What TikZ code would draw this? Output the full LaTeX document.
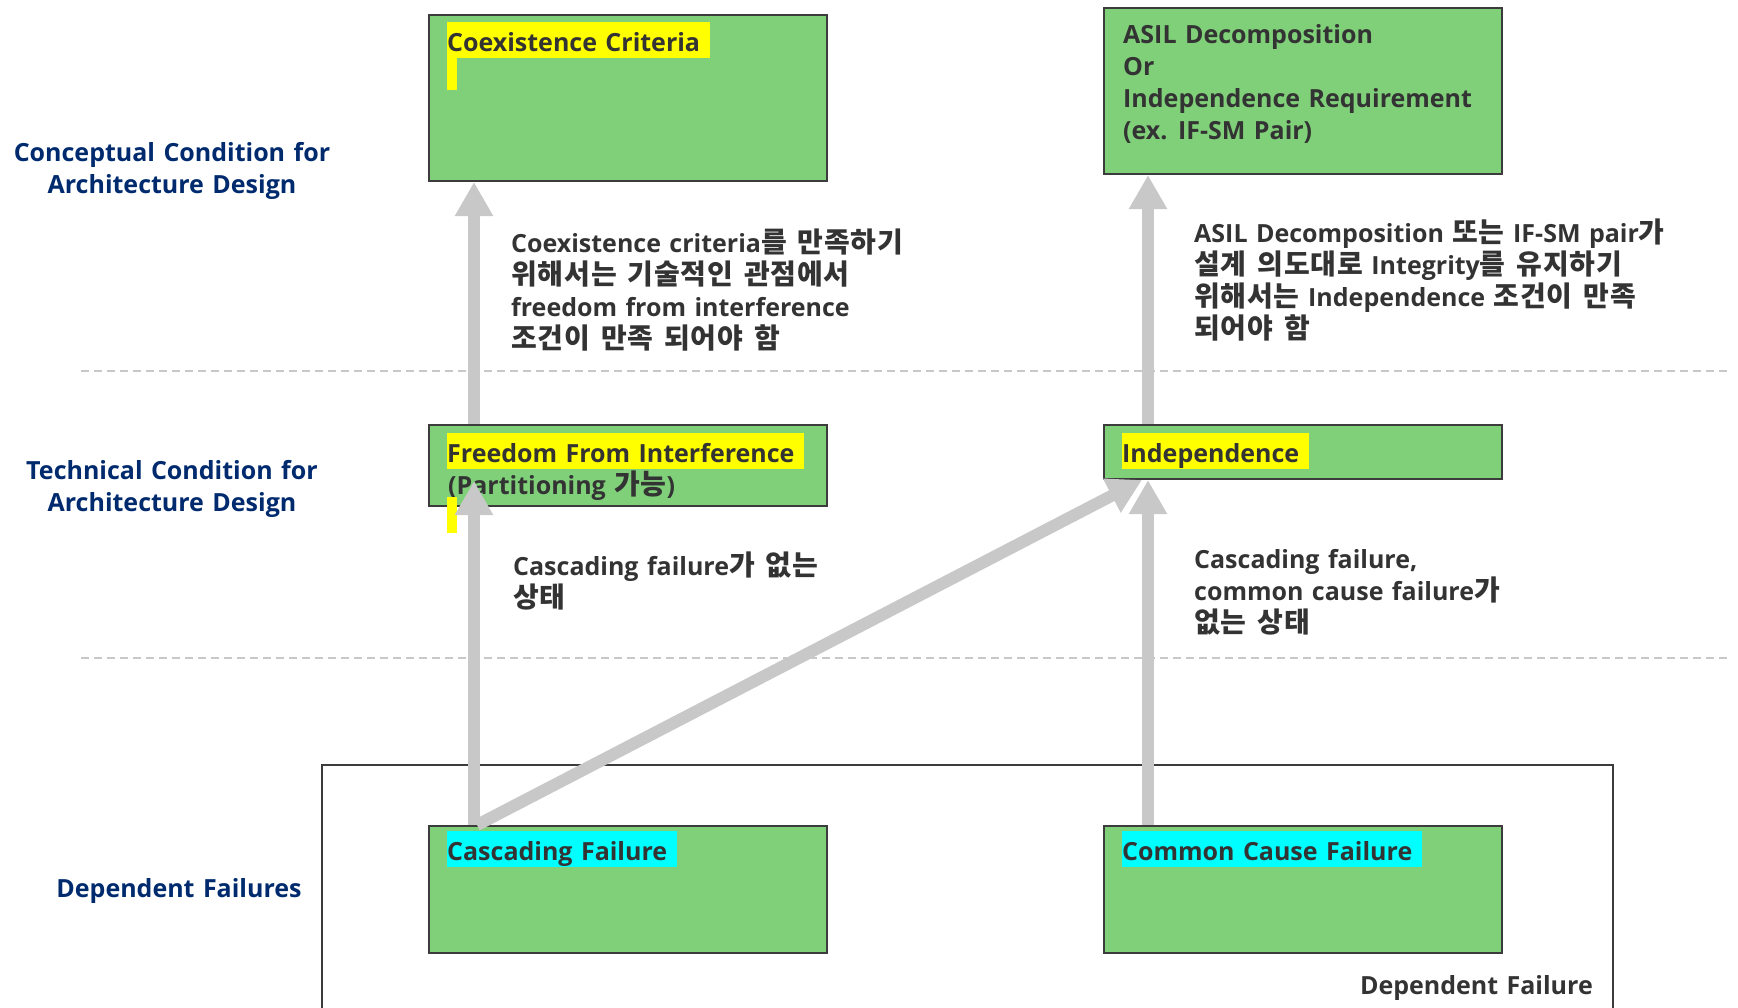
\documentclass[tikz,border=0pt]{standalone}
\usepackage{fontspec}
\setmainfont{Open Sans}[WordSpace=1.3]
\newfontfamily\kofont{Noto Sans CJK KR Bold}[Scale=1.12,LetterSpace=3,WordSpace=1.5]
\newcommand\ko[1]{{\kofont #1}}
\usetikzlibrary{arrows.meta}
\definecolor{boxgreen}{RGB}{128,208,122}
\definecolor{boxline}{RGB}{60,60,60}
\definecolor{txt}{RGB}{51,51,51}
\definecolor{navy}{RGB}{0,42,110}
\definecolor{arrowgray}{RGB}{200,200,200}
\definecolor{hlyellow}{RGB}{255,255,0}
\definecolor{hlcyan}{RGB}{0,255,255}
\tikzset{
  box/.style={draw=boxline, line width=2pt, fill=boxgreen, minimum width=398pt, inner sep=0pt},
  txtnode/.style={text=txt, anchor=west, inner sep=0pt, align=left, font=\bfseries\fontsize{25}{32}\selectfont},
  lbl/.style={text=navy, anchor=center, inner sep=0pt, align=center, font=\bfseries\fontsize{25}{32}\selectfont},
  hl/.style={txtnode, inner xsep=0pt, inner ysep=3pt, text height=26pt, text depth=4pt},
  bigarrow/.style={draw=arrowgray, line width=12pt, -{Triangle[width=36pt,length=34pt]}, arrowgray},
  sepline/.style={draw=arrowgray, line width=2pt, dash pattern=on 8pt off 5pt},
  frame/.style={draw=boxline, line width=2pt}
}
\begin{document}
\begin{tikzpicture}[x=1pt, y=-1pt]
\useasboundingbox (0,0) rectangle (1738,1007);
% separators
\draw[sepline] (81,371) -- (1729,371);
\draw[sepline] (81,658) -- (1729,658);
% outer frame
\coordinate (fbl) at (322,1010);
\coordinate (ftl) at (322,765);
\coordinate (ftr) at (1613,765);
\coordinate (fbr) at (1613,1010);
\draw[frame] (fbl) -- (ftl) -- (ftr) -- (fbr);
\node[txtnode, anchor=east] (dfl) at (1593,988) {Dependent Failure};
% left labels
\node[lbl] (lc) at (172,170.5) {Conceptual Condition for\\Architecture Design};
\node[lbl] (lt) at (172,488.5) {Technical Condition for\\Architecture Design};
\node[lbl] (ld) at (179,890.5) {Dependent Failures};
% boxes
\node[box, minimum height=166pt] (coex) at (628,98) {};
\node[box, minimum height=166pt] (asil) at (1303,91) {};
\node[box, minimum height=81pt] (ffi) at (628,465.5) {};
\node[box, minimum height=54pt] (ind) at (1303,452) {};
\node[box, minimum height=127pt] (casc) at (628,889.5) {};
\node[box, minimum height=127pt] (ccf) at (1303,889.5) {};
% box texts
\node[hl, fill=hlyellow] (coext) at (447,40) {Coexistence Criteria\hspace{10pt}};
\fill[hlyellow] (447,57) rectangle (457,90);
\node[txtnode] (asilt) at (1123,84) {ASIL Decomposition\\Or\\Independence Requirement\\(ex. IF-SM Pair)};
\node[hl, fill=hlyellow] (ffit) at (447,451) {Freedom From Interference\hspace{10pt}};
\node[txtnode] (ffit2) at (448,486) {(Partitioning \ko{가능})};
\fill[hlyellow] (447,497) rectangle (457,533);
\node[hl, fill=hlyellow] (indt) at (1122,451) {Independence\hspace{10pt}};
\node[hl, fill=hlcyan] (casct) at (447,849) {Cascading Failure\hspace{10pt}};
\node[hl, fill=hlcyan] (ccft) at (1122,849) {Common Cause Failure\hspace{10pt}};
% arrows
\draw[bigarrow] ([xshift=-154pt]ffi.north) -- ([xshift=-154pt]coex.south);
\draw[bigarrow] ([xshift=-155pt]ind.north) -- ([xshift=-155pt]asil.south);
\draw[bigarrow] ([xshift=-154pt]casc.north) -- ([xshift=-154pt,yshift=26pt]ffi.south);
\draw[bigarrow] ([xshift=-151pt]casc.north) -- ([xshift=-161pt]ind.south);
\draw[bigarrow] ([xshift=-155pt]ccf.north) -- ([xshift=-155pt]ind.south);
% annotations
\node[txtnode] (n1) at (511,290.5) {Coexistence criteria\ko{를 만족하기}\\\ko{위해서는 기술적인 관점에서}\\freedom from interference\\\ko{조건이 만족 되어야 함}};
\node[txtnode] (n2) at (1194,280.5) {ASIL Decomposition \ko{또는} IF-SM pair\ko{가}\\\ko{설계 의도대로} Integrity\ko{를 유지하기}\\\ko{위해서는} Independence \ko{조건이 만족}\\\ko{되어야 함}};
\node[txtnode] (n3) at (513,581.5) {Cascading failure\ko{가 없는}\\\ko{상태}};
\node[txtnode] (n4) at (1194,592.5) {Cascading failure,\\common cause failure\ko{가}\\\ko{없는 상태}};
\end{tikzpicture}
\end{document}
